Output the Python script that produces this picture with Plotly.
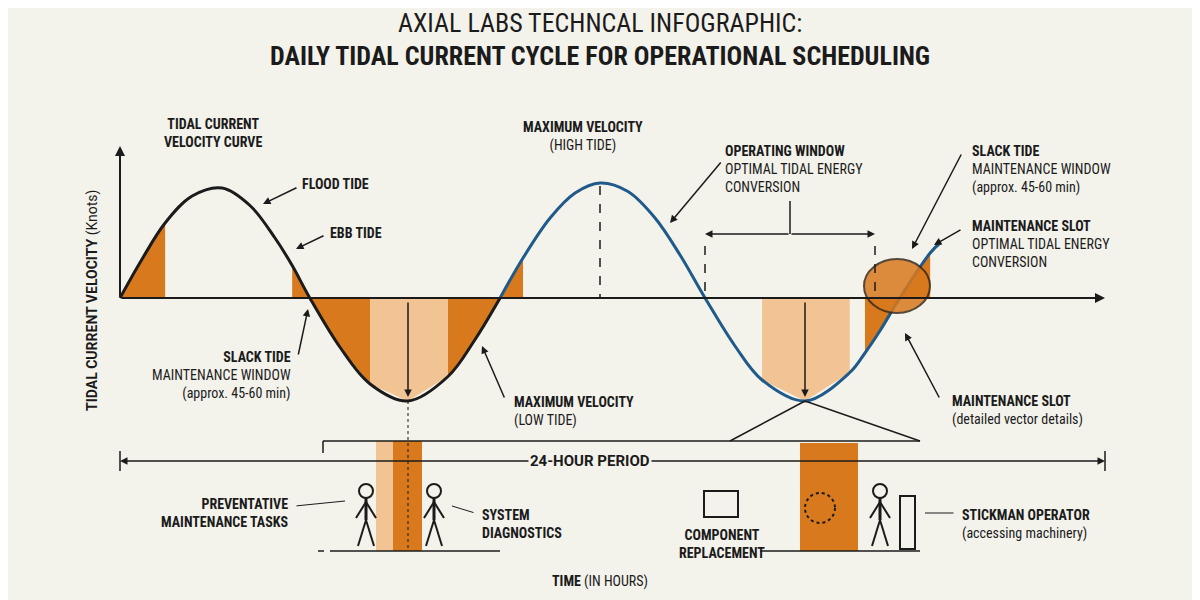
import plotly.graph_objects as go

# tidal curve: time (hours) and velocity (knots)
flood_hours = [0.00, 0.54, 1.10, 1.76, 2.49, 3.17, 3.78, 4.20, 4.63, 5.37, 6.10, 7.02, 8.00, 8.66, 9.27]
flood_knots = [0.00, 0.78, 1.50, 2.04, 2.20, 1.85, 1.20, 0.65, 0.00, -0.99, -1.72, -2.06, -1.57, -0.83, 0.00]
ebb_hours = [9.27, 9.83, 10.49, 11.10, 11.71, 12.39, 13.05, 13.66, 14.27, 15.00, 15.66, 16.71, 17.80, 18.17, 18.54, 19.02, 19.76, 20.00]
ebb_knots = [0.00, 0.80, 1.60, 2.10, 2.30, 2.13, 1.60, 0.86, 0.00, -0.96, -1.64, -2.06, -1.49, -1.10, -0.65, 0.00, 0.90, 1.10]

# shaded windows (start hour, end hour, colour key)
windows = [(0.00, 1.10, "dark"), (4.20, 4.63, "dark"), (4.63, 6.10, "dark"), (6.10, 8.00, "light"),
           (8.00, 9.27, "dark"), (9.27, 9.83, "dark"), (15.66, 17.80, "light"), (18.17, 19.76, "dark")]

BG = "#f3f2eb"
DARK = "#d9791d"
LIGHT = "#f2c493"
INK = "#1b1b1b"
BLUE = "#1f5a8a"


def X(px):
    return (px - 120) / 41


def Y(py):
    return (297 - py) / 50


all_h = flood_hours + ebb_hours[1:]
all_k = flood_knots + ebb_knots[1:]

fig = go.Figure()
for a, b, c in windows:
    xs = [h for h in all_h if a <= h <= b]
    ys = [all_k[all_h.index(h)] for h in xs]
    fig.add_trace(go.Scatter(x=[a] + xs + [b], y=[0] + ys + [0], fill="toself", mode="none",
                             fillcolor=DARK if c == "dark" else LIGHT,
                             hoverinfo="skip", showlegend=False))

fig.add_shape(type="circle", x0=X(864), x1=X(930), y0=Y(258), y1=Y(312),
              fillcolor=DARK, opacity=0.85, line=dict(color="#3a2a1a", width=2))

fig.add_trace(go.Scatter(x=flood_hours, y=flood_knots, mode="lines", line=dict(color=INK, width=3, shape="spline"),
                         showlegend=False))
fig.add_trace(go.Scatter(x=ebb_hours, y=ebb_knots, mode="lines", line=dict(color=BLUE, width=3, shape="spline"),
                         showlegend=False))


def line(x0, y0, x1, y1, dash="solid", w=1.5):
    fig.add_shape(type="line", x0=X(x0), y0=Y(y0), x1=X(x1), y1=Y(y1), line=dict(color=INK, width=w, dash=dash))


def arrow(x0, y0, x1, y1, w=1.5, head=2):
    fig.add_annotation(x=X(x1), y=Y(y1), ax=X(x0), ay=Y(y0), axref="x", ayref="y", text="",
                       showarrow=True, arrowhead=head, arrowwidth=w, arrowcolor=INK)


def label(px, py, text, size=14, align="center", bold=True, color=INK):
    fig.add_annotation(x=X(px), y=Y(py), text=f"<b>{text}</b>" if bold else text, showarrow=False,
                       font=dict(size=size, color=color, family="Roboto Condensed, Roboto, Arial"), align=align,
                       xanchor={"center": "center", "left": "left", "right": "right"}[align])


# axes
arrow(120, 297, 1105, 297, w=2)
arrow(120, 297, 120, 145, w=2)
fig.add_annotation(x=X(92), y=Y(300), text="<b>TIDAL CURRENT VELOCITY</b> (Knots)", textangle=-90,
                   showarrow=False, font=dict(size=14, color=INK, family="Roboto"))

# guides
line(600, 185, 600, 297, dash="dash")
arrow(408, 300, 408, 396)
line(408, 400, 408, 550, dash="dot", w=1)
arrow(805, 300, 805, 396)
line(705, 245, 705, 297, dash="dash")
line(875, 245, 875, 297, dash="dash")
arrow(790, 233, 705, 233)
arrow(790, 233, 875, 233)
line(790, 200, 790, 233)
line(805, 400, 730, 440)
line(805, 400, 920, 440)
line(323, 440, 920, 440)
line(323, 440, 323, 452)

# 24 hour period
arrow(600, 460, 120, 460)
arrow(600, 460, 1105, 460)
line(120, 450, 120, 470)
line(1105, 450, 1105, 470)
fig.add_annotation(x=X(590), y=Y(460), text="<b>24-HOUR PERIOD</b>", showarrow=False, bgcolor=BG,
                   font=dict(size=15, color=INK, family="Roboto"))

# maintenance bars
fig.add_shape(type="rect", x0=X(376), x1=X(393), y0=Y(440), y1=Y(550), fillcolor=LIGHT, line_width=0, layer="below")
fig.add_shape(type="rect", x0=X(393), x1=X(422), y0=Y(440), y1=Y(550), fillcolor=DARK, line_width=0, layer="below")
fig.add_shape(type="rect", x0=X(800), x1=X(858), y0=Y(442), y1=Y(550), fillcolor=DARK, line_width=0, layer="below")
line(330, 550, 500, 550)
line(318, 550, 324, 550)
line(760, 550, 920, 550)


def stickman(cx, top):
    fig.add_shape(type="circle", x0=X(cx - 7), x1=X(cx + 7), y0=Y(top), y1=Y(top + 14),
                  line=dict(color=INK, width=2), fillcolor=BG)
    line(cx, top + 14, cx, top + 36, w=3)
    line(cx, top + 18, cx - 10, top + 34, w=2)
    line(cx, top + 18, cx + 10, top + 34, w=2)
    line(cx, top + 36, cx - 8, top + 62, w=2)
    line(cx, top + 36, cx + 8, top + 62, w=2)


stickman(366, 483)
stickman(434, 483)
stickman(880, 483)
fig.add_shape(type="rect", x0=X(704), x1=X(738), y0=Y(490), y1=Y(516), line=dict(color=INK, width=2))
fig.add_shape(type="circle", x0=X(805), x1=X(835), y0=Y(492), y1=Y(522), line=dict(color=INK, width=2, dash="dot"))
fig.add_shape(type="rect", x0=X(900), x1=X(915), y0=Y(495), y1=Y(548), line=dict(color=INK, width=2))

# text callouts
label(600, 22, "AXIAL LABS TECHNCAL INFOGRAPHIC:", size=26, bold=False)
label(600, 55, "DAILY TIDAL CURRENT CYCLE FOR OPERATIONAL SCHEDULING", size=26)
label(213, 132, "TIDAL CURRENT<br>VELOCITY CURVE")
label(300, 183, "FLOOD TIDE", align="left")
arrow(298, 186, 263, 203)
label(328, 232, "EBB TIDE", align="left")
arrow(325, 234, 296, 248)
label(583, 135, "MAXIMUM VELOCITY<br><span style='font-weight:normal'>(HIGH TIDE)</span>")
label(723, 168, "OPERATING WINDOW<br><span style='font-weight:normal'>OPTIMAL TIDAL ENERGY<br>CONVERSION</span>",
      align="left")
arrow(722, 160, 670, 222)
label(970, 168, "SLACK TIDE<br><span style='font-weight:normal'>MAINTENANCE WINDOW<br>(approx. 45-60 min)</span>",
      align="left")
arrow(962, 152, 912, 248)
label(970, 243, "MAINTENANCE SLOT<br><span style='font-weight:normal'>OPTIMAL TIDAL ENERGY<br>CONVERSION</span>",
      align="left")
arrow(962, 228, 934, 244)
label(293, 374, "SLACK TIDE<br><span style='font-weight:normal'>MAINTENANCE WINDOW<br>(approx. 45-60 min)</span>",
      align="right")
arrow(298, 355, 308, 308)
label(512, 410, "MAXIMUM VELOCITY<br><span style='font-weight:normal'>(LOW TIDE)</span>", align="left")
arrow(505, 398, 482, 345)
label(950, 409, "MAINTENANCE SLOT<br><span style='font-weight:normal'>(detailed vector details)</span>",
      align="left")
arrow(940, 398, 905, 332)
label(290, 512, "PREVENTATIVE<br>MAINTENANCE TASKS", align="right")
arrow(295, 505, 345, 500, head=0, w=1)
label(480, 523, "SYSTEM<br>DIAGNOSTICS", align="left")
arrow(475, 512, 452, 505, head=0, w=1)
label(722, 543, "COMPONENT<br>REPLACEMENT")
label(960, 523, "STICKMAN OPERATOR<br><span style='font-weight:normal'>(accessing machinery)</span>",
      align="left")
arrow(955, 512, 925, 512, head=0, w=1)
label(600, 580, "TIME <span style='font-weight:normal'>(IN HOURS)</span>")

# the page adds an 8px body margin, so shift the visible window to compensate
fig.update_layout(
    width=1200, height=600, margin=dict(l=0, r=0, t=0, b=0),
    paper_bgcolor=BG, plot_bgcolor=BG, showlegend=False,
    xaxis=dict(range=[X(8), X(1208)], visible=False, fixedrange=True),
    yaxis=dict(range=[Y(607), Y(7)], visible=False, fixedrange=True),
)
fig.write_html("out.html")
